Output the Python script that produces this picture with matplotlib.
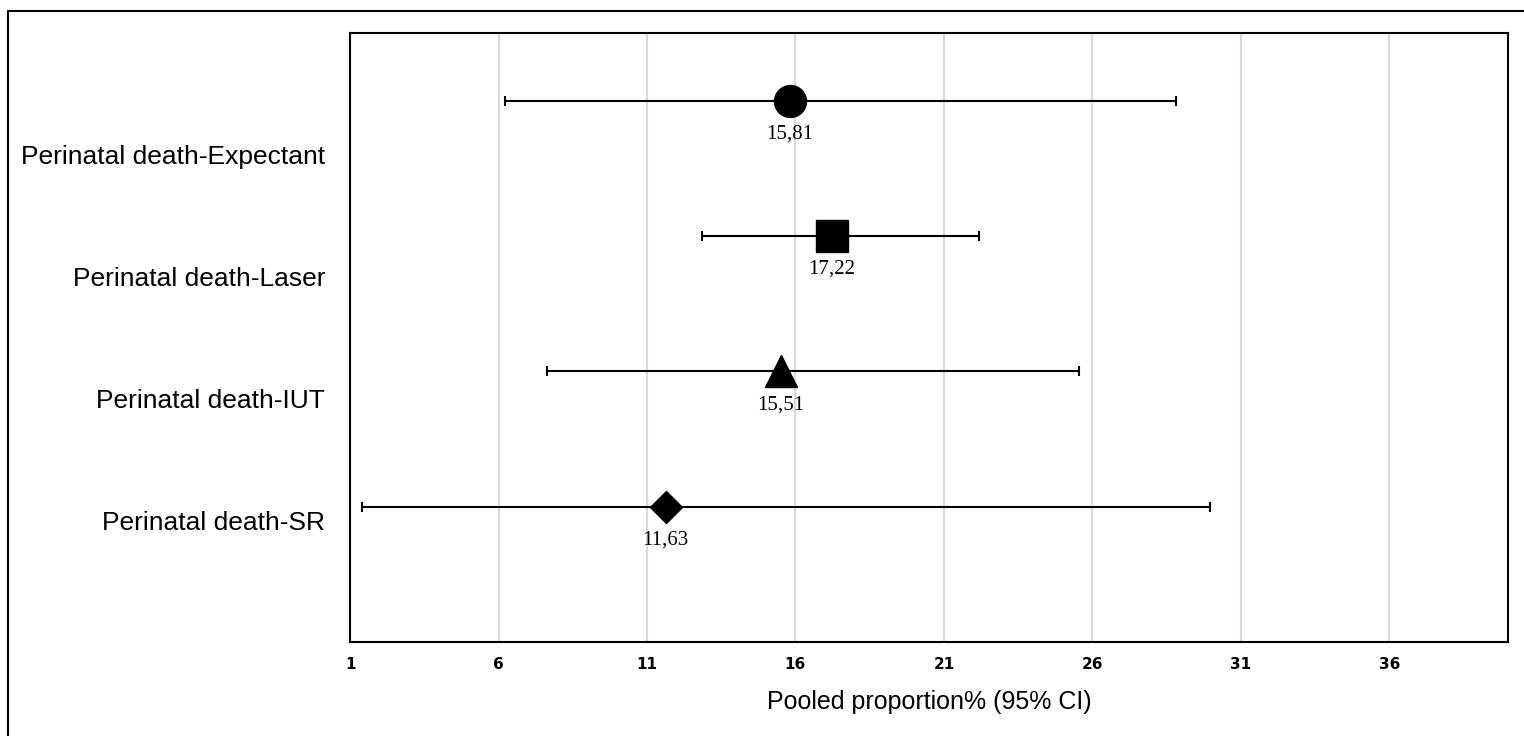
import matplotlib.pyplot as plt
from matplotlib import font_manager
from matplotlib.lines import Line2D

# --- DADOS ---
labels = ['Perinatal death-Expectant', 'Perinatal death-Laser',
          'Perinatal death-IUT', 'Perinatal death-SR']
pooled = [15.81, 17.22, 15.51, 11.63]
ci_low = [6.22, 12.85, 7.63, 1.40]
ci_high = [28.81, 22.18, 25.55, 29.96]
xticks = [1, 6, 11, 16, 21, 26, 31, 36]

markers = ['o', 's', '^', 'D']
msizes = [23, 23, 23, 16]

installed = {f.name for f in font_manager.fontManager.ttflist}
label_font = 'Liberation Sans Narrow' if 'Liberation Sans Narrow' in installed else 'Liberation Sans'

fig = plt.figure(figsize=(15.24, 7.36), dpi=100)
ax = fig.add_axes([0.2297, 0.1277, 0.7598, 0.8275])

# pontos em y = 4, 3, 2, 1 (de cima para baixo)
ypos = [len(labels) - i for i in range(len(labels))]
for i in range(len(labels)):
    err = [[pooled[i] - ci_low[i]], [ci_high[i] - pooled[i]]]
    ax.errorbar(pooled[i], ypos[i], xerr=err, fmt='none', ecolor='black',
                elinewidth=1.5, capsize=3.6, capthick=1.5, zorder=3)
    ax.plot(pooled[i], ypos[i], marker=markers[i], markersize=msizes[i],
            color='black', linestyle='none', zorder=4)
    ax.annotate(f'{pooled[i]:.2f}'.replace('.', ','), (pooled[i], ypos[i]),
                xytext=(0, -24), textcoords='offset points', ha='center', va='center',
                fontsize=15, family='Liberation Serif')

ax.set_xlim(1, 40)
ax.set_ylim(0, 4.5)
ax.set_xticks(xticks)
ax.set_xticklabels([str(t) for t in xticks], fontsize=11, fontweight='bold')
ax.set_yticks([3.6, 2.7, 1.8, 0.9])
ax.set_yticklabels(labels, fontsize=19, family=label_font)
ax.tick_params(axis='both', length=0)
ax.tick_params(axis='x', pad=11)
ax.tick_params(axis='y', pad=18)
ax.grid(axis='x', color='#d9d9d9', linewidth=1.5)
ax.set_axisbelow(True)
for s in ax.spines.values():
    s.set_linewidth(1.5)
ax.set_xlabel('Pooled proportion% (95% CI)', fontsize=18, family=label_font, labelpad=13)

# moldura externa
fig.add_artist(Line2D([8 / 1524, 8 / 1524, 1], [0, 1 - 11 / 736, 1 - 11 / 736],
                      color='black', linewidth=1.5, transform=fig.transFigure))

fig.savefig('out.png', dpi=100)
